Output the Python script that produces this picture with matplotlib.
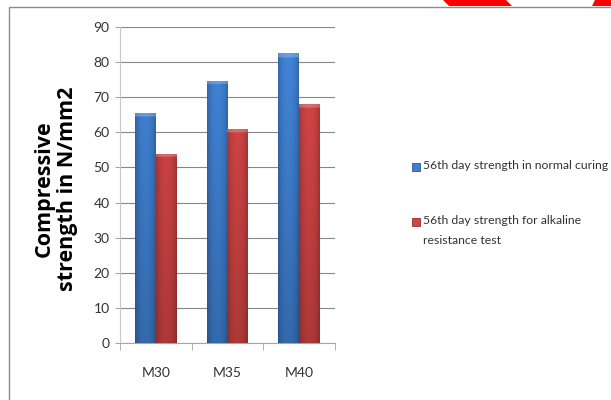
import numpy as np
import matplotlib
matplotlib.use("Agg")
import matplotlib.pyplot as plt
from matplotlib.patches import Rectangle, Polygon
from matplotlib.ticker import FixedLocator

GRADES  = ["M30", "M35", "M40"]
NORMAL  = [65.4, 74.7, 82.5]     # 56th day strength in normal curing
ALKALI  = [53.9, 61.0, 68.0]     # 56th day strength for alkaline resistance test
LABELS  = ["56th day strength in normal curing",
           "56th day strength for alkaline\nresistance test"]
YTICKS  = list(range(0, 91, 10))

BLUE = np.array([63, 127, 208]) / 255
RED  = np.array([208, 68, 68]) / 255
SANS = ["Lato", "DejaVu Sans"]
W, H, DPI = 611, 400, 100


def shade(ax, patch, base, ymax=90.0):
    # fake the Excel bevel/gradient look on top of a plain bar
    x0, y0 = patch.get_x(), patch.get_y()
    w, h = patch.get_width(), patch.get_height()
    nx, ny = 40, 200
    t = (np.arange(nx) + 0.5) / nx
    fh = 0.74 + 0.30 * np.sin(np.pi * t) ** 0.5
    ys = y0 + h * (np.arange(ny) + 0.5) / ny
    fv = 0.80 + 0.22 * ys / ymax
    img = np.clip(base[None, None, :] * fv[:, None, None] * fh[None, :, None], 0, 1)
    top = ys > h - 1.1
    img[top] = img[top] + (1 - img[top]) * 0.22
    im = ax.imshow(img, extent=(x0, x0 + w, y0, y0 + h), origin="lower",
                   aspect="auto", interpolation="bilinear", zorder=3)
    im.set_clip_path(patch)


fig = plt.figure(figsize=(W / DPI, H / DPI), dpi=DPI)
ax = fig.add_axes([120 / W, 57 / H, 215 / W, 316 / H])

x = np.arange(len(GRADES))
bw = 0.29
b1 = ax.bar(x - bw / 2, NORMAL, bw, color=BLUE, zorder=2)
b2 = ax.bar(x + bw / 2, ALKALI, bw, color=RED, zorder=2)
for p in b1:
    shade(ax, p, BLUE)
for p in b2:
    shade(ax, p, RED)

ax.set_xlim(-0.5, len(GRADES) - 0.5)
ax.set_ylim(0, 90)
ax.set_yticks(YTICKS)
ax.set_xticks(x)
ax.set_xticklabels(GRADES, family=SANS, fontsize=10, color="#333333")
ax.set_yticklabels([str(v) for v in YTICKS], family=SANS, fontsize=10, color="#333333")
ax.xaxis.set_minor_locator(FixedLocator(np.arange(-0.5, len(GRADES), 1.0)))
ax.tick_params(axis="x", which="major", length=0, pad=17)
ax.tick_params(axis="x", which="minor", length=5, color="#A6A6A6", direction="out")
ax.tick_params(axis="y", length=3.5, color="#A6A6A6", pad=4)
ax.yaxis.grid(True, color="#868686", lw=0.8, zorder=0)
ax.set_axisbelow(True)
for s in ("top", "right"):
    ax.spines[s].set_visible(False)
ax.spines["left"].set_color("#C8C8C8")
ax.spines["bottom"].set_color("#A6A6A6")

fig.text(56 / W, 1 - 189 / H, "Compressive\nstrength in N/mm2", rotation=90,
         ha="center", va="center", multialignment="center", linespacing=1.15,
         family=["Open Sans", "DejaVu Sans"], fontweight="bold", fontsize=15.5)

# legend, drawn by hand so the marker sits on the first line
renderer = fig.canvas.get_renderer()
probe = fig.text(0, 0, LABELS[0], family=SANS, fontsize=10)
fs = 10 * 186 / probe.get_window_extent(renderer).width
probe.remove()
colors = [BLUE, RED]
ypos = [167, 222]
for lab, c, yp in zip(LABELS, colors, ypos):
    fig.patches.append(Rectangle((412 / W, 1 - (yp + 4) / H), 8 / W, 8 / H,
                                 transform=fig.transFigure, facecolor=c,
                                 edgecolor=c * 0.7, lw=0.6))
    fig.text(423 / W, 1 - (yp - 7) / H, lab, ha="left", va="top", family=SANS,
             fontsize=fs, color="#333333", linespacing=2.0)

# chart frame and the clipped page title / red arrows above it
fig.patches.append(Rectangle((9 / W, -0.1), 1.2, 1 - 7 / H + 0.1,
                             transform=fig.transFigure, fill=False,
                             edgecolor="#8C8C8C", lw=1.0))
fig.text(66 / W, 1 + 5.5 / H, "Compressive strength", ha="left", va="baseline",
         family=["Liberation Serif", "DejaVu Serif"], fontweight="bold", fontsize=18)
for pts in ([(443, 0), (506, 0), (512, 6), (449, 6)],
            [(595, 0), (620, 0), (620, 6), (592, 6)]):
    fig.patches.append(Polygon([(px / W, 1 - py / H) for px, py in pts], closed=True,
                               transform=fig.transFigure, facecolor="#FF0000",
                               edgecolor="none"))

fig.savefig("out.png", dpi=DPI)
